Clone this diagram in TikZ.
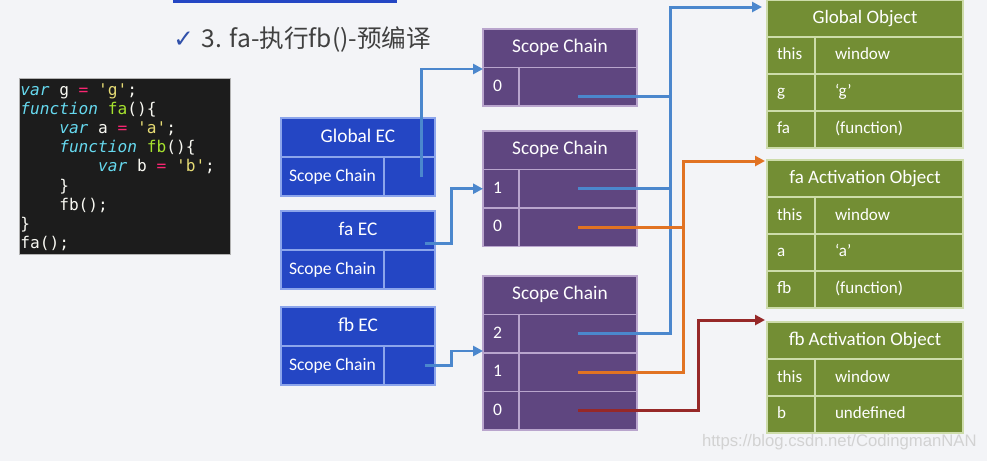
\documentclass[tikz,border=0pt]{standalone}
\usepackage{fontspec}
\setmainfont{Carlito}
\setmonofont{DejaVu Sans Mono}
\newfontfamily\cjk{Noto Sans CJK SC}
\newfontfamily\symfont{DejaVu Sans}
\newfontfamily\webfont{Liberation Sans}
\usetikzlibrary{arrows.meta,positioning}

\definecolor{bgcol}{RGB}{243,244,247}
\definecolor{ecblue}{RGB}{36,70,196}
\definecolor{ecline}{RGB}{140,165,235}
\definecolor{scpurple}{RGB}{95,70,128}
\definecolor{scline}{RGB}{185,165,205}
\definecolor{aogreen}{RGB}{115,142,52}
\definecolor{aoline}{RGB}{205,220,170}
\definecolor{bluelink}{RGB}{75,135,205}
\definecolor{orangelink}{RGB}{225,115,35}
\definecolor{redlink}{RGB}{150,40,40}
\definecolor{codebg}{RGB}{28,28,28}
\definecolor{mkwhite}{RGB}{248,248,242}
\definecolor{mkcyan}{RGB}{102,217,239}
\definecolor{mkpink}{RGB}{249,38,114}
\definecolor{mkyellow}{RGB}{230,219,116}
\definecolor{mkgreen}{RGB}{166,226,46}
\definecolor{titlegray}{RGB}{64,64,64}
\definecolor{checkblue}{RGB}{48,80,170}

\newcommand\kw[1]{\textcolor{mkcyan}{\itshape #1}}
\newcommand\op[1]{\textcolor{mkpink}{#1}}
\newcommand\str[1]{\textcolor{mkyellow}{#1}}
\newcommand\fn[1]{\textcolor{mkgreen}{#1}}
\newcommand\tab{\phantom{xxxx}}

\begin{document}
\begin{tikzpicture}[x=0.02cm,y=-0.02cm,
    cell/.style={draw,line width=0.8pt,outer sep=0pt,inner sep=0pt,text=white,
      text height=0.25cm,text depth=0.07cm},
    eccell/.style={cell,draw=ecline,fill=ecblue,minimum height=0.78cm,
      font=\fontsize{10}{12}\selectfont},
    ectitle/.style={eccell,minimum width=3.08cm,font=\fontsize{11}{13}\selectfont},
    sccell/.style={cell,draw=scline,fill=scpurple,minimum height=0.77cm,
      font=\fontsize{10}{12}\selectfont},
    sctitle/.style={sccell,minimum width=3.08cm,font=\fontsize{11}{13}\selectfont},
    sckey/.style={sccell,inner xsep=0.2cm,text width=0.32cm,align=left},
    scval/.style={sccell,minimum width=2.36cm},
    aocell/.style={cell,draw=aoline,fill=aogreen,minimum height=0.74cm,
      font=\fontsize{9.7}{12}\selectfont},
    aotitle/.style={aocell,minimum width=3.92cm,font=\fontsize{10.8}{13}\selectfont},
    aokey/.style={aocell,inner xsep=0.2cm,text width=0.56cm,align=left},
    aoval/.style={aocell,inner xsep=0.4cm,text width=2.16cm,align=left},
    codeline/.style={anchor=base west,inner sep=0pt,text=mkwhite,
      font=\ttfamily\fontsize{9.2}{11}\selectfont},
    link/.style={line width=1.7pt},
    tip/.style={-{Triangle[length=0.2cm,width=0.2cm]}}]
  \useasboundingbox (0,0) rectangle (987,461);
  \fill[bgcol] (0,0) rectangle (987,461);
  \fill[ecblue] (173,-5) rectangle (397,3);
  % title
  \node[anchor=west,inner sep=0pt,text=titlegray,font=\fontsize{14}{16}\selectfont] (title) at (173,39)
    {{\symfont\textcolor{checkblue}{✓}}\hspace{0.16cm}{\cjk 3. fa-执行fb()-预编译}};
  % source code
  \node[draw=gray!60,fill=codebg,minimum width=4.22cm,minimum height=3.52cm,inner sep=0pt,outer sep=0pt]
    (codebox) at (124.5,166) {};
  \foreach \ln [count=\i] in {{\kw{var} g \op{=} \str{'g'};},
      {\kw{function} \fn{fa}()\{},
      {\tab\kw{var} a \op{=} \str{'a'};},
      {\tab\kw{function} \fn{fb}()\{},
      {\tab\tab\kw{var} b \op{=} \str{'b'};},
      {\tab\}},
      {\tab fb();},
      {\}},
      {fa();}}
    \node[codeline] (code\i) at (20,{95+19.2*(\i-1)}) {\ln};
  % execution contexts
  \node[ectitle] (gecT) at (358,137.5) {Global EC};
  \node[eccell,minimum width=2.06cm,anchor=north west] (geck) at (gecT.south west) {Scope Chain};
  \node[eccell,minimum width=1.02cm,anchor=north east] (gecv) at (gecT.south east) {};
  \node[ectitle] (facT) at (358,230.5) {fa EC};
  \node[eccell,minimum width=2.06cm,anchor=north west] (fack) at (facT.south west) {Scope Chain};
  \node[eccell,minimum width=1.02cm,anchor=north east] (facv) at (facT.south east) {};
  \node[ectitle] (fbcT) at (358,326.5) {fb EC};
  \node[eccell,minimum width=2.06cm,anchor=north west] (fbck) at (fbcT.south west) {Scope Chain};
  \node[eccell,minimum width=1.02cm,anchor=north east] (fbcv) at (fbcT.south east) {};
  % scope chains
  \node[sctitle] (sc1T) at (560,48.25) {Scope Chain};
  \node[sckey,anchor=north west] (sc1k0) at (sc1T.south west) {0};
  \node[scval,anchor=north east] (sc1v0) at (sc1T.south east) {};
  \node[sctitle] (sc2T) at (560,150.25) {Scope Chain};
  \node[sckey,anchor=north west] (sc2k1) at (sc2T.south west) {1};
  \node[scval,anchor=north east] (sc2v1) at (sc2T.south east) {};
  \node[sckey,below=0pt of sc2k1] (sc2k0) {0};
  \node[scval,below=0pt of sc2v1] (sc2v0) {};
  \node[sctitle] (sc3T) at (560,295.25) {Scope Chain};
  \node[sckey,anchor=north west] (sc3k2) at (sc3T.south west) {2};
  \node[scval,anchor=north east] (sc3v2) at (sc3T.south east) {};
  \node[sckey,below=0pt of sc3k2] (sc3k1) {1};
  \node[scval,below=0pt of sc3v2] (sc3v1) {};
  \node[sckey,below=0pt of sc3k1] (sc3k0) {0};
  \node[scval,below=0pt of sc3v1] (sc3v0) {};
  % variable objects
  \node[aotitle] (goT) at (865,18.5) {Global Object};
  \node[aokey,anchor=north west] (goK1) at (goT.south west) {this};
  \node[aoval,anchor=north east] (goV1) at (goT.south east) {window};
  \node[aokey,below=0pt of goK1] (goK2) {g};
  \node[aoval,below=0pt of goV1] (goV2) {‘g’};
  \node[aokey,below=0pt of goK2] (goK3) {fa};
  \node[aoval,below=0pt of goV2] (goV3) {(function)};
  \node[aotitle] (faT) at (865,178.5) {fa Activation Object};
  \node[aokey,anchor=north west] (faK1) at (faT.south west) {this};
  \node[aoval,anchor=north east] (faV1) at (faT.south east) {window};
  \node[aokey,below=0pt of faK1] (faK2) {a};
  \node[aoval,below=0pt of faV1] (faV2) {‘a’};
  \node[aokey,below=0pt of faK2] (faK3) {fb};
  \node[aoval,below=0pt of faV2] (faV3) {(function)};
  \node[aotitle] (fbT) at (865,340.5) {fb Activation Object};
  \node[aokey,anchor=north west] (fbK1) at (fbT.south west) {this};
  \node[aoval,anchor=north east] (fbV1) at (fbT.south east) {window};
  \node[aokey,below=0pt of fbK1] (fbK2) {b};
  \node[aoval,below=0pt of fbV1] (fbV2) {undefined};
  % links EC -> scope chain
  \draw[link,bluelink,tip] ([xshift=0.25cm]gecv.center) |- ([yshift=-0.03cm]sc1k0.north west);
  \draw[link,bluelink,tip] ([xshift=0.31cm,yshift=0.14cm]facv.north) -- ++(27,0) |- (sc2k1.west);
  \draw[link,bluelink,tip] ([xshift=0.31cm]fbcv.center) -- ++(27,0) |- ([yshift=0.04cm]sc3k2.south west);
  % links scope chain -> objects
  \coordinate (bbus) at (670,0);
  \coordinate (obus) at (683,0);
  \coordinate (rbus) at (698,0);
  \coordinate (gotip) at ([xshift=-0.1cm,yshift=-0.14cm]goT.north west);
  \coordinate (fatip) at ([xshift=-0.04cm,yshift=-0.02cm]faT.north west);
  \coordinate (fbtip) at ([xshift=-0.04cm,yshift=0.04cm]fbT.north west);
  \draw[link,bluelink] ([yshift=-0.2cm]sc1v0.center) -| (bbus |- gotip);
  \draw[link,bluelink] (sc2v1.center) -| (bbus |- gotip);
  \draw[link,bluelink,tip] (sc3v2.center) -| (bbus |- gotip) -- (gotip);
  \draw[link,orangelink] (sc2v0.center) -| (obus |- fatip);
  \draw[link,orangelink,tip] (sc3v1.center) -| (obus |- fatip) -- (fatip);
  \draw[link,redlink,tip] (sc3v0.center) -| (rbus |- fbtip) -- (fbtip);
  % watermark
  \node[anchor=east,inner sep=0pt,text=gray!35,font=\webfont\fontsize{9.5}{11}\selectfont] (wm)
    at (977,442) {https://blog.csdn.net/CodingmanNAN};
\end{tikzpicture}
\end{document}
